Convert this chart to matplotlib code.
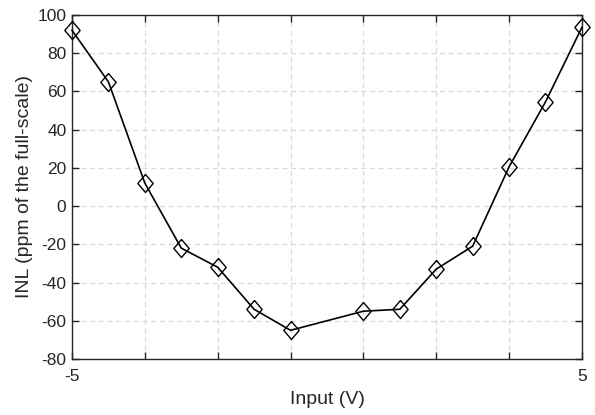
import numpy as np
import matplotlib
matplotlib.use("Agg")
import matplotlib.pyplot as plt

plt.rcParams["font.family"] = ["Liberation Sans", "DejaVu Sans"]
plt.rcParams["axes.unicode_minus"] = False

# 输入电压采样点（-5..5 共 15 档，中间一档缺失）与对应 INL
input_v = [-5.0, -4.2857, -3.5714, -2.8571, -2.1429, -1.4286, -0.7143,
           0.7143, 1.4286, 2.1429, 2.8571, 3.5714, 4.2857, 5.0]
inl_ppm = [92, 65, 12, -22, -32, -54, -65,
           -55, -54, -33, -21, 20.5, 54.5, 93.5]

x_ticks = np.linspace(-5, 5, 8)
x_ticklabels = ["-5", "", "", "", "", "", "", "5"]
y_ticks = [-80, -60, -40, -20, 0, 20, 40, 60, 80, 100]

txt = "#262626"

# 略高于宽的菱形标记（MATLAB 风格）
diamond = [(0, 1), (0.85, 0), (0, -1), (-0.85, 0), (0, 1)]

fig = plt.figure(figsize=(5.95, 4.15), dpi=100)
ax = fig.add_axes([0.121, 0.135, 0.857, 0.829])

ax.plot(input_v, inl_ppm, color="black", lw=1.2, marker=diamond,
        markersize=13, markerfacecolor="none", markeredgecolor="black",
        markeredgewidth=1.0, clip_on=False, zorder=3)

ax.set_xlim(-5, 5)
ax.set_ylim(-80, 100)
ax.set_xticks(x_ticks)
ax.set_xticklabels(x_ticklabels)
ax.set_yticks(y_ticks)

ax.grid(True, linestyle=(0, (4, 3)), color="#d9d9d9", lw=0.9)
ax.set_axisbelow(True)
ax.tick_params(direction="in", top=True, right=True, length=5, width=1.0,
               colors=txt, labelsize=12.5)
ax.tick_params(axis="x", pad=7)
ax.tick_params(axis="y", pad=4)
for s in ax.spines.values():
    s.set_color(txt)
    s.set_linewidth(1.0)

ax.set_xlabel("Input (V)", fontsize=14, color=txt, labelpad=5)
ax.set_ylabel("INL (ppm of the full-scale)", fontsize=14, color=txt,
              labelpad=3)

fig.savefig("out.png", dpi=100)
